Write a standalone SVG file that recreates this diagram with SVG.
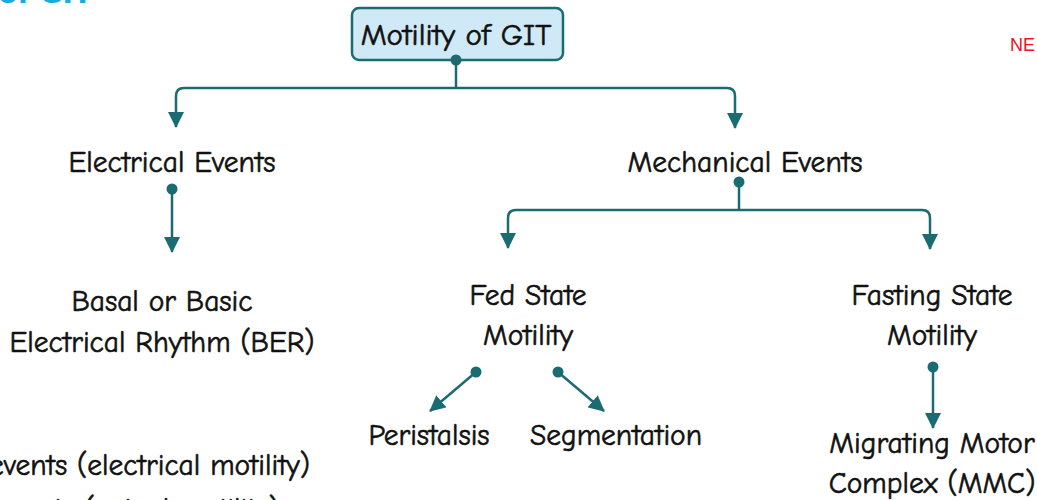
<svg xmlns="http://www.w3.org/2000/svg" width="1037" height="500" viewBox="0 0 1037 500">
  <style>
    .lbl { font-family: "Comic Sans MS", "Comic Neue", "DejaVu Sans", sans-serif; font-size: 29.5px; fill: #111; stroke: #111; stroke-width: 0.6; text-anchor: middle; }
    .wire { fill: none; stroke: #1b6c72; stroke-width: 2.5; }
    .dot { fill: #1b6c72; }
  </style>
  <defs>
    <marker id="arrow" markerUnits="userSpaceOnUse" markerWidth="16" markerHeight="16" viewBox="0 0 16 16" refX="15" refY="8" orient="auto">
      <path d="M0,0 L16,8 L0,16 Z" fill="#1b6c72"/>
    </marker>
  </defs>

  <rect width="1037" height="500" fill="#ffffff"/>

  <!-- page heading and corner tag -->
  <text x="92" y="2.5" style="font-family: 'DejaVu Sans', sans-serif; font-size: 28px; font-weight: bold; fill: #1aa9e6; text-anchor: end;">of GIT</text>
  <text x="1010" y="51" style="font-family: 'Liberation Sans', sans-serif; font-size: 18px; fill: #e8141c;">NE</text>

  <g id="root">
    <rect x="352" y="8" width="211" height="52" rx="7" fill="#cfe9f6" stroke="#1b6c72" stroke-width="2.5"/>
    <text class="lbl" x="456" y="45" style="font-size: 31px;">Motility of GIT</text>
  </g>

  <g id="electrical">
    <text class="lbl" x="172" y="172">Electrical Events</text>
  </g>
  <g id="mechanical">
    <text class="lbl" x="745" y="172">Mechanical Events</text>
  </g>
  <g id="ber">
    <text class="lbl" x="162" y="311">Basal or Basic</text>
    <text class="lbl" x="162" y="352">Electrical Rhythm (BER)</text>
  </g>
  <g id="fed">
    <text class="lbl" x="528" y="305">Fed State</text>
    <text class="lbl" x="528" y="345">Motility</text>
  </g>
  <g id="fasting">
    <text class="lbl" x="932" y="305">Fasting State</text>
    <text class="lbl" x="932" y="345">Motility</text>
  </g>
  <g id="peristalsis">
    <text class="lbl" x="429" y="445">Peristalsis</text>
  </g>
  <g id="segmentation">
    <text class="lbl" x="616" y="445">Segmentation</text>
  </g>
  <g id="mmc">
    <text class="lbl" x="932" y="453">Migrating Motor</text>
    <text class="lbl" x="932" y="493">Complex (MMC)</text>
  </g>

  <!-- footnote lines -->
  <g id="notes">
    <text class="lbl" x="310" y="475" style="text-anchor: end;">Electrical events (electrical motility)</text>
    <text class="lbl" x="279" y="519" style="text-anchor: end;">Mechanical events (actual motility)</text>
  </g>

  <g id="connectors">
    <!-- root split -->
    <circle class="dot" cx="456" cy="60" r="5.5"/>
    <path class="wire" d="M456,60 V88"/>
    <path class="wire" d="M456,88 H184 Q176,88 176,96 V127" marker-end="url(#arrow)"/>
    <path class="wire" d="M456,88 H727 Q735,88 735,96 V128" marker-end="url(#arrow)"/>

    <!-- electrical to BER -->
    <circle class="dot" cx="172" cy="189" r="5.5"/>
    <path class="wire" d="M172,189 V252" marker-end="url(#arrow)"/>

    <!-- mechanical split -->
    <circle class="dot" cx="739" cy="182" r="5.5"/>
    <path class="wire" d="M739,182 V210"/>
    <path class="wire" d="M739,210 H516 Q508,210 508,218 V248" marker-end="url(#arrow)"/>
    <path class="wire" d="M739,210 H922 Q930,210 930,218 V249" marker-end="url(#arrow)"/>

    <!-- fed state branches -->
    <circle class="dot" cx="476" cy="372" r="5.5"/>
    <path class="wire" d="M476,372 L430,411" marker-end="url(#arrow)"/>
    <circle class="dot" cx="558" cy="372" r="5.5"/>
    <path class="wire" d="M558,372 L604,411" marker-end="url(#arrow)"/>

    <!-- fasting to MMC -->
    <circle class="dot" cx="933" cy="367" r="5.5"/>
    <path class="wire" d="M933,367 V428" marker-end="url(#arrow)"/>
  </g>
</svg>
